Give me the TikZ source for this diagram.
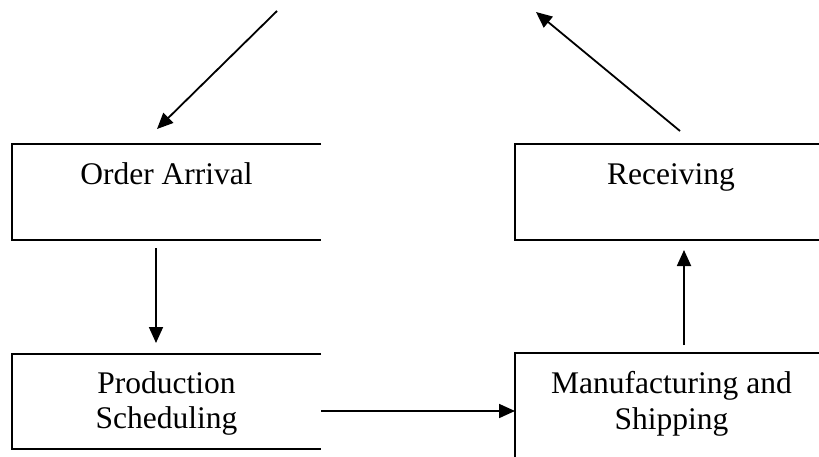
\documentclass[tikz,border=0pt]{standalone}
\usepackage{fontspec}
\setmainfont{Liberation Serif}
\usetikzlibrary{arrows.meta}
\tikzset{
  boxarea/.style={draw=none, inner sep=0pt, outer sep=0pt},
  boxline/.style={line width=1.8pt, line join=miter},
  lbl/.style={anchor=base, inner sep=0pt, font=\fontsize{31.5pt}{36pt}\selectfont},
  arr/.style={line width=1.8pt, -{Triangle[length=16pt,width=14pt]}}
}
\begin{document}
\begin{tikzpicture}[x=1pt,y=-1pt]
\useasboundingbox (0,0) rectangle (819,457);
% box areas
\node[boxarea, minimum width=309pt, minimum height=96pt] (oa) at (166.5,192) {};
\node[boxarea, minimum width=313pt, minimum height=96pt] (rc) at (671.5,192) {};
\node[boxarea, minimum width=309pt, minimum height=95pt] (ps) at (166.5,401.5) {};
\node[boxarea, minimum width=313pt, minimum height=116pt] (ms) at (671.5,411) {};
% open-right borders
\draw[boxline] (oa.north east) -- (oa.north west) -- (oa.south west) -- (oa.south east);
\draw[boxline] (rc.north east) -- (rc.north west) -- (rc.south west) -- (rc.south east);
\draw[boxline] (ps.north east) -- (ps.north west) -- (ps.south west) -- (ps.south east);
\draw[boxline] (ms.north east) -- (ms.north west) -- (ms.south west) -- (ms.south east);
% labels
\node[lbl] (oat) at (166.5,185) {Order Arrival};
\node[lbl] (rct) at (671,185) {Receiving};
\node[lbl] (pst1) at (166.5,393) {Production};
\node[lbl] (pst2) at (166.5,428.5) {Scheduling};
\node[lbl] (mst1) at (671.5,393) {Manufacturing and};
\node[lbl] (mst2) at (671.5,429.5) {Shipping};
% free ends
\coordinate (inS) at (277,11);
\coordinate (inE) at (157,129);
\coordinate (outS) at (680,131);
\coordinate (outE) at (536,12);
% connectors
\draw[arr] (inS) -- (inE);
\draw[arr] (outS) -- (outE);
\draw[arr] ([xshift=-10.5pt,yshift=-8pt]oa.south) -- ([xshift=-10.5pt,yshift=11pt]ps.north);
\draw[arr] ([xshift=12.5pt,yshift=8pt]ms.north) -- ([xshift=12.5pt,yshift=-10pt]rc.south);
\draw[arr] (ps.east |- ms.west) -- (ms.west);
\end{tikzpicture}
\end{document}
